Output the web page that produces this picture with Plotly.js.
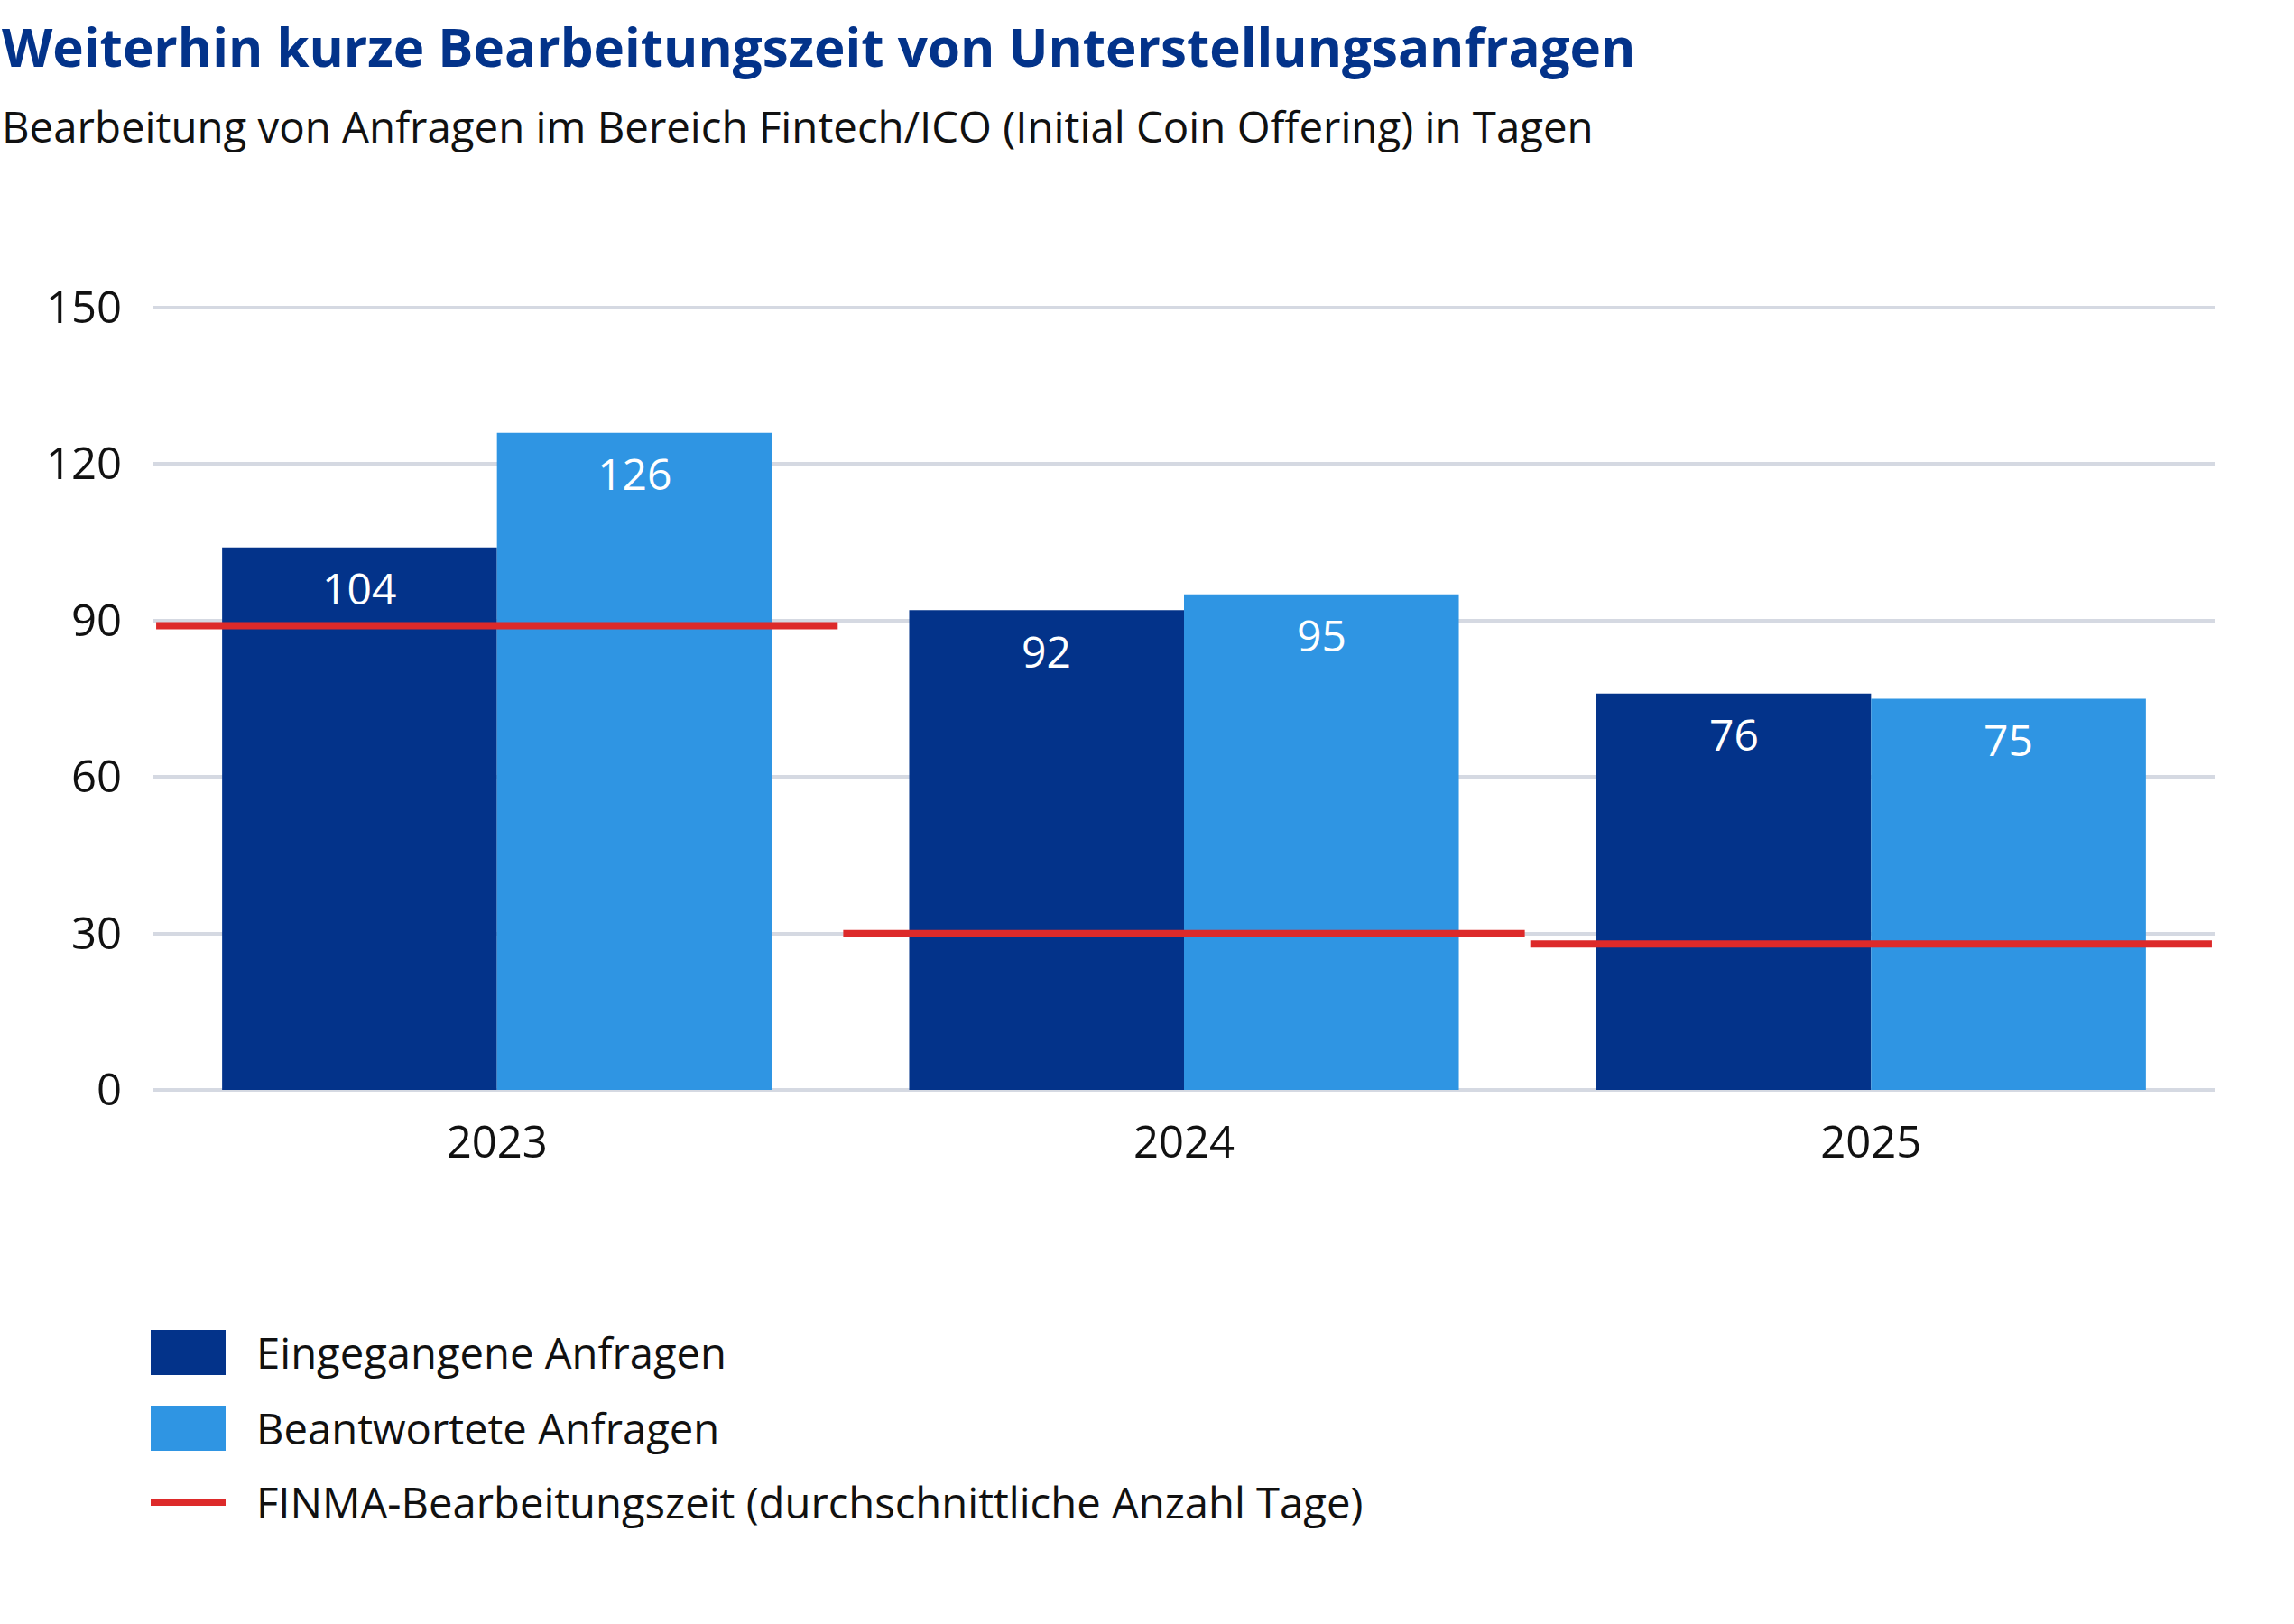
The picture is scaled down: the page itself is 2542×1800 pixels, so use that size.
<!DOCTYPE html>
<html>
<head>
<meta charset="utf-8">
<script src="https://cdn.plot.ly/plotly-3.0.1.min.js"></script>
<style>html,body{margin:0;padding:0;background:#fff;}#chart{width:2542px;height:1800px;}</style>
</head>
<body>
<div id="chart"></div>
<script>
// ---- data ----
const years = ['2023', '2024', '2025'];
const eingegangene = [104, 92, 76];
const beantwortete = [126, 95, 75];
const finmaZeit = [89, 30, 28];
const yTicks = [0, 30, 60, 90, 120, 150];
const seriesNames = ['Eingegangene Anfragen', 'Beantwortete Anfragen', 'FINMA-Bearbeitungszeit (durchschnittliche Anzahl Tage)'];
const titleText = 'Weiterhin kurze Bearbeitungszeit von Unterstellungsanfragen';
const subtitleText = 'Bearbeitung von Anfragen im Bereich Fintech/ICO (Initial Coin Offering) in Tagen';

// ---- style ----
const FONT = 'Open Sans, Noto Sans, DejaVu Sans, sans-serif';
const DARK = '#03338A';
const LIGHT = '#2F95E3';
const RED = '#DD2A2A';
const GRID = '#D5D9E2';
const TXT = '#111111';
const W = 2542, H = 1800;
const PAD = 0.5;                       // small value padding so the 0 and 150 gridlines are visible
const yTop = 341, yBot = 1208;         // pixel rows of 150 and 0
const unit = (yBot - yTop) / 150;
const M = {l: 170, r: 88, t: Math.round(yTop - PAD * unit), b: Math.round(H - yBot - PAD * unit)};
const plotW = W - M.l - M.r, plotH = H - M.t - M.b;
const px2x = p => (p - M.l) / plotW;
const px2y = p => (H - M.b - p) / plotH;
const BARGAP = 0.2;
const barOff = (1 - BARGAP) / 4;       // centre offset of each bar in a group of two

// red segments: one per category on a hidden linear axis matching the category scale
const half = 0.496;
const lineX = [], lineY = [];
years.forEach((y, i) => { lineX.push(i - half, i + half, null); lineY.push(finmaZeit[i], finmaZeit[i], null); });

const traces = [
  {type: 'bar', x: years, y: eingegangene, name: seriesNames[0], marker: {color: DARK, line: {width: 0}}, hoverinfo: 'skip'},
  {type: 'bar', x: years, y: beantwortete, name: seriesNames[1], marker: {color: LIGHT, line: {width: 0}}, hoverinfo: 'skip'},
  {type: 'scatter', mode: 'lines', x: lineX, y: lineY, xaxis: 'x2', name: seriesNames[2],
   line: {color: RED, width: 8}, cliponaxis: false, connectgaps: false, hoverinfo: 'skip'}
];

// value labels inside the bars, just below each bar top
const annotations = [];
[eingegangene, beantwortete].forEach((vals, s) => vals.forEach((v, i) => annotations.push({
  xref: 'x2', yref: 'y', x: i + (s === 0 ? -barOff : barOff), y: v, yanchor: 'middle', xanchor: 'center',
  yshift: -45, showarrow: false, text: String(v), font: {family: FONT, size: 48, color: '#ffffff'}})));

// title + subtitle
annotations.push(
  {xref: 'paper', yref: 'paper', x: px2x(0), y: px2y(51), xanchor: 'left', yanchor: 'middle', showarrow: false,
   text: '<b>' + titleText + '</b>', font: {family: FONT, size: 58.3, color: DARK}},
  {xref: 'paper', yref: 'paper', x: px2x(0), y: px2y(140), xanchor: 'left', yanchor: 'middle', showarrow: false,
   text: subtitleText, font: {family: FONT, size: 47.4, color: TXT}}
);

// manual legend (large swatches as in the reference)
const legRows = [1499, 1583, 1665];
const shapes = [
  {type: 'rect', xref: 'paper', yref: 'paper', x0: px2x(167), x1: px2x(250), y0: px2y(1474), y1: px2y(1524), fillcolor: DARK, line: {width: 0}},
  {type: 'rect', xref: 'paper', yref: 'paper', x0: px2x(167), x1: px2x(250), y0: px2y(1558), y1: px2y(1608), fillcolor: LIGHT, line: {width: 0}},
  {type: 'line', xref: 'paper', yref: 'paper', x0: px2x(167), x1: px2x(250), y0: px2y(1665), y1: px2y(1665), line: {color: RED, width: 8}}
];
seriesNames.forEach((n, i) => annotations.push({xref: 'paper', yref: 'paper', x: px2x(282), y: px2y(legRows[i]),
  xanchor: 'left', yanchor: 'middle', showarrow: false, text: n, font: {family: FONT, size: 47.2, color: TXT}}));

const layout = {
  width: W, height: H, margin: M, paper_bgcolor: '#ffffff', plot_bgcolor: '#ffffff',
  showlegend: false, barmode: 'group', bargap: BARGAP, bargroupgap: 0,
  font: {family: FONT, size: 48, color: TXT},
  xaxis: {type: 'category', range: [-0.5, 2.5], showgrid: false, zeroline: false, showline: false, ticks: '',
          ticklabelstandoff: 22, tickfont: {family: FONT, size: 49, color: TXT}, fixedrange: true},
  xaxis2: {type: 'linear', overlaying: 'x', range: [-0.5, 2.5], visible: false, fixedrange: true},
  yaxis: {range: [-PAD, 150 + PAD], tickvals: yTicks, ticktext: yTicks.map(String), showgrid: true, gridcolor: GRID, gridwidth: 4,
          zeroline: false, showline: false, ticks: '', ticklabelstandoff: 34,
          tickfont: {family: FONT, size: 49, color: TXT}, fixedrange: true},
  shapes: shapes, annotations: annotations
};

Plotly.newPlot('chart', traces, layout, {displayModeBar: false, staticPlot: true});
</script>
</body>
</html>
